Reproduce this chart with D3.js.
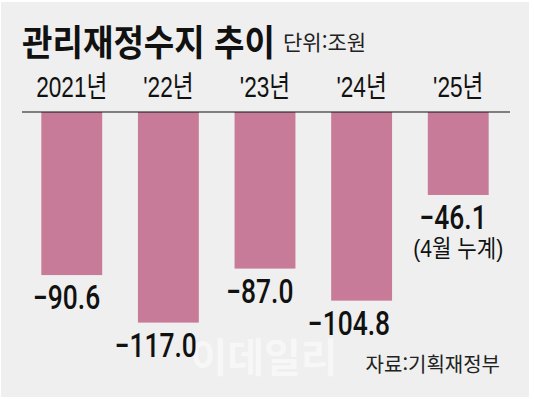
<!DOCTYPE html>
<html lang="ko">
<head>
<meta charset="UTF-8">
<title>관리재정수지 추이</title>
<script src="https://cdn.jsdelivr.net/npm/d3@7"></script>
<style>
    body { margin: 0; padding: 0; background: #fff; }
    svg { display: block; }
    .kr { font-family: "Noto Sans CJK KR", sans-serif; }
</style>
</head>
<body>
<svg id="chart" width="534" height="399"></svg>
<script>
    // 데이터
    const years = ["2021년", "'22년", "'23년", "'24년", "'25년"];
    const balance = [-90.6, -117.0, -87.0, -104.8, -46.1];
    const valueLabels = ["−90.6", "−117.0", "−87.0", "−104.8", "−46.1"];
    const noteLabel = "(4월 누계)";

    const svg = d3.select("#chart");

    // 배경
    svg.append("rect")
        .attr("x", 1).attr("y", 2)
        .attr("width", 528).attr("height", 395)
        .attr("fill", "#eeefee");

    // 워터마크
    svg.append("text")
        .attr("class", "kr")
        .attr("x", 264).attr("y", 372)
        .attr("text-anchor", "middle")
        .style("font-size", "40px")
        .style("font-weight", "bold")
        .style("fill", "#f7f7f7")
        .text("이데일리");

    // 제목
    svg.append("g")
        .attr("transform", "translate(22,56) scale(0.92,1)")
        .append("text")
        .attr("class", "kr")
        .style("font-size", "36px")
        .style("font-weight", "bold")
        .style("fill", "#111")
        .text("관리재정수지 추이");

    svg.append("text")
        .attr("class", "kr")
        .attr("x", 283).attr("y", 50)
        .style("font-size", "21px")
        .style("fill", "#222")
        .text("단위:조원");

    const x = d3.scaleBand()
        .domain(years)
        .range([22, 508])
        .paddingInner(0.37)
        .paddingOuter(0.2);

    const y = d3.scaleLinear()
        .domain([0, -120])
        .range([112, 328]);

    // 막대
    svg.append("g")
        .selectAll("rect")
        .data(balance)
        .enter().append("rect")
        .attr("x", (d, i) => x(years[i]))
        .attr("y", y(0))
        .attr("width", x.bandwidth())
        .attr("height", d => y(d) - y(0))
        .attr("fill", "#c87b98");

    // 기준선
    svg.append("line")
        .attr("x1", 22).attr("x2", 510)
        .attr("y1", y(0)).attr("y2", y(0))
        .attr("stroke", "#111")
        .attr("stroke-width", 1.2);

    // 연도 라벨
    svg.append("g")
        .selectAll("g")
        .data(years)
        .enter().append("g")
        .attr("transform", d => `translate(${x(d) + x.bandwidth() / 2},97) scale(0.78,1)`)
        .append("text")
        .attr("text-anchor", "middle")
        .style("font-family", "'Liberation Sans', 'Noto Sans CJK KR', sans-serif")
        .style("font-size", "29px")
        .style("fill", "#111")
        .text(d => d);

    // 값 라벨
    svg.append("g")
        .selectAll("g")
        .data(balance)
        .enter().append("g")
        .attr("transform", (d, i) => `translate(${x(years[i]) + x.bandwidth() - 2},${y(d) + 34}) scale(0.8,1)`)
        .append("text")
        .attr("text-anchor", "end")
        .style("font-family", "Roboto, 'Liberation Sans', sans-serif")
        .style("font-size", "33px")
        .style("font-weight", "500")
        .style("fill", "#111")
        .text((d, i) => valueLabels[i]);

    // 주석
    const last = years.length - 1;
    svg.append("g")
        .attr("transform", `translate(${x(years[last]) + x.bandwidth() / 2},${y(balance[last]) + 62}) scale(0.88,1)`)
        .append("text")
        .attr("text-anchor", "middle")
        .style("font-family", "'Liberation Sans', 'Noto Sans CJK KR', sans-serif")
        .style("font-size", "24px")
        .style("fill", "#111")
        .text(noteLabel);

    // 출처
    svg.append("text")
        .attr("class", "kr")
        .attr("x", 500).attr("y", 372)
        .attr("text-anchor", "end")
        .style("font-size", "20px")
        .style("fill", "#222")
        .text("자료:기획재정부");
</script>
</body>
</html>
